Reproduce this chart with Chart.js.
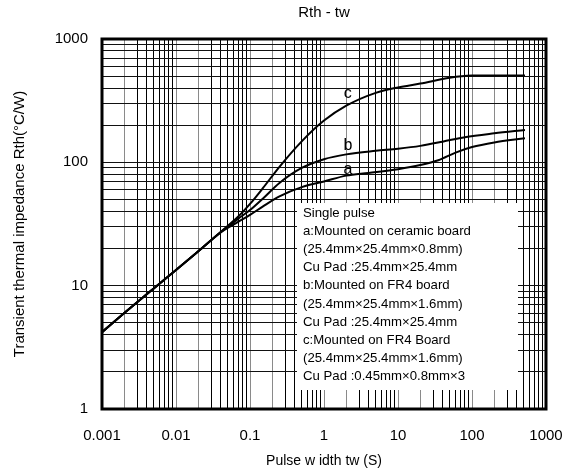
<!DOCTYPE html>
<html>
<head>
<meta charset="utf-8">
<script src="https://cdn.jsdelivr.net/npm/chart.js@4.4.1/dist/chart.umd.min.js"></script>
<style>
  html, body { margin: 0; padding: 0; background: #fff; }
  #wrap { width: 574px; height: 476px; position: relative; }
</style>
</head>
<body>
<div id="wrap"><canvas id="c"></canvas></div>
<script>
// ---- data ----
const titleText = 'Rth - tw';
const xTitle = 'Pulse w idth tw (S)';
const yTitle = 'Transient thermal impedance Rth(\u00B0C/W)';
const xTickLabels = ['0.001', '0.01', '0.1', '1', '10', '100', '1000'];
const yTickLabels = ['1', '10', '100', '1000'];

const xA = [0.001, 0.002, 0.005, 0.01, 0.02, 0.04, 0.07, 0.1, 0.15, 0.25, 0.5, 1, 2, 4, 10, 20, 35, 60, 100, 200, 520];
const yA = [4.2, 6.0, 9.5, 13.4, 19, 27, 33, 37.5, 44, 53, 63, 70, 78, 82, 88, 95, 104, 120, 133, 145, 157];

const xB = [0.001, 0.002, 0.005, 0.01, 0.02, 0.04, 0.07, 0.1, 0.15, 0.25, 0.5, 1, 2, 5, 10, 20, 40, 80, 200, 520];
const yB = [4.2, 6.0, 9.5, 13.4, 19, 27, 35, 41, 51, 68, 90, 106, 116, 124, 129, 136, 147, 160, 172, 183];

const xC = [0.001, 0.002, 0.005, 0.01, 0.02, 0.04, 0.07, 0.1, 0.15, 0.25, 0.5, 1, 2, 5, 10, 20, 50, 100, 200, 520];
const yC = [4.2, 6.0, 9.5, 13.4, 19, 27.2, 36.5, 46, 62, 92, 148, 218, 288, 366, 405, 435, 485, 505, 507, 507];

const curveNames = ['a', 'b', 'c'];
const curveLabelX = [2.1, 2.1, 2.1];
const curveLabelY = [88, 136, 358];

const noteLines = [
  'Single pulse',
  'a:Mounted on ceramic board',
  '(25.4mm\u00D725.4mm\u00D70.8mm)',
  'Cu Pad :25.4mm\u00D725.4mm',
  'b:Mounted on FR4 board',
  '(25.4mm\u00D725.4mm\u00D71.6mm)',
  'Cu Pad :25.4mm\u00D725.4mm',
  'c:Mounted on FR4 Board',
  '(25.4mm\u00D725.4mm\u00D71.6mm)',
  'Cu Pad :0.45mm\u00D70.8mm\u00D73'
];

// ---- helpers ----
const FONT = 'Arial, "Liberation Sans", sans-serif';
function pts(xs, ys) { return xs.map((x, i) => ({ x: x, y: ys[i] })); }
function logTicks(minExp, maxExp) {
  const t = [];
  for (let e = minExp; e < maxExp; e++) {
    for (let m = 1; m <= 9; m++) t.push({ value: parseFloat((m * Math.pow(10, e)).toPrecision(6)) });
  }
  t.push({ value: Math.pow(10, maxExp) });
  return t;
}
function mantissa(v) {
  const e = Math.floor(Math.log10(v) + 1e-9);
  return Math.round(v / Math.pow(10, e));
}
function isMajor(v) { return mantissa(v) === 1; }

const extras = {
  id: 'extras',
  beforeDatasetsDraw(chart) {
    const ctx = chart.ctx;
    ctx.save();
    // note box covering the grid
    const bx = 297, by = 203, bw = 221, bh = 187;
    ctx.fillStyle = '#fff';
    ctx.fillRect(bx, by, bw, bh);
    ctx.fillStyle = '#000';
    ctx.font = '13.2px ' + FONT;
    ctx.textAlign = 'left';
    ctx.textBaseline = 'middle';
    noteLines.forEach((s, i) => ctx.fillText(s, 303, 213 + i * 18.2));
    ctx.restore();
  },
  afterDraw(chart) {
    const ctx = chart.ctx, a = chart.chartArea;
    const xs = chart.scales.x, ys = chart.scales.y;
    ctx.save();
    ctx.strokeStyle = '#000';
    ctx.lineWidth = 3;
    ctx.strokeRect(a.left, a.top, a.right - a.left, a.bottom - a.top);
    ctx.fillStyle = '#000';
    ctx.font = '16px ' + FONT;
    ctx.textAlign = 'center';
    ctx.textBaseline = 'middle';
    curveNames.forEach((n, i) => {
      ctx.fillText(n, xs.getPixelForValue(curveLabelX[i]), ys.getPixelForValue(curveLabelY[i]));
    });
    ctx.restore();
  }
};

const lineStyle = { borderColor: '#000', borderWidth: 2, pointRadius: 0, fill: false, cubicInterpolationMode: 'monotone' };

new Chart(document.getElementById('c'), {
  type: 'line',
  data: {
    datasets: [
      Object.assign({ label: 'a', data: pts(xA, yA) }, lineStyle),
      Object.assign({ label: 'b', data: pts(xB, yB) }, lineStyle),
      Object.assign({ label: 'c', data: pts(xC, yC) }, lineStyle)
    ]
  },
  options: {
    responsive: true,
    maintainAspectRatio: false,
    animation: false,
    layout: { padding: { left: 0, right: 28, top: 0, bottom: 0 } },
    plugins: {
      legend: { display: false },
      tooltip: { enabled: false },
      title: {
        display: true,
        text: titleText,
        fullSize: false,
        color: '#000',
        font: { family: FONT, size: 15, weight: 'normal' },
        padding: { top: 4, bottom: 17 }
      }
    },
    scales: {
      x: {
        type: 'logarithmic',
        min: 0.001,
        max: 1000,
        afterBuildTicks(s) { s.ticks = logTicks(-3, 3); },
        afterFit(s) { s.height = 67; },
        ticks: {
          autoSkip: false,
          maxRotation: 0,
          padding: 10,
          color: '#000',
          font: { family: FONT, size: 15, lineHeight: '34px' },
          callback(v) {
            if (!isMajor(v)) return '';
            return xTickLabels[Math.round(Math.log10(v)) + 3];
          }
        },
        grid: {
          drawTicks: false,
          lineWidth: 1,
          color(ctx) {
            const v = ctx.tick ? ctx.tick.value : 1;
            const m = mantissa(v);
            return (m === 1 || m === 2) ? '#8a8a8a' : '#000';
          }
        },
        border: { display: false },
        title: {
          display: true,
          text: xTitle,
          color: '#000',
          font: { family: FONT, size: 14 },
          padding: { top: 0, bottom: 6 }
        }
      },
      y: {
        type: 'logarithmic',
        min: 1,
        max: 1000,
        afterBuildTicks(s) { s.ticks = logTicks(0, 3); },
        afterFit(s) { s.width = 102; },
        ticks: {
          autoSkip: false,
          padding: 14,
          color: '#000',
          font: { family: FONT, size: 15 },
          callback(v) {
            if (!isMajor(v)) return '';
            return yTickLabels[Math.round(Math.log10(v))];
          }
        },
        grid: {
          drawTicks: false,
          lineWidth: 1,
          color: '#111'
        },
        border: { display: false },
        title: {
          display: true,
          text: yTitle,
          color: '#000',
          font: { family: FONT, size: 15 },
          padding: { top: 11, bottom: 0 }
        }
      }
    }
  },
  plugins: [extras]
});
</script>
</body>
</html>
